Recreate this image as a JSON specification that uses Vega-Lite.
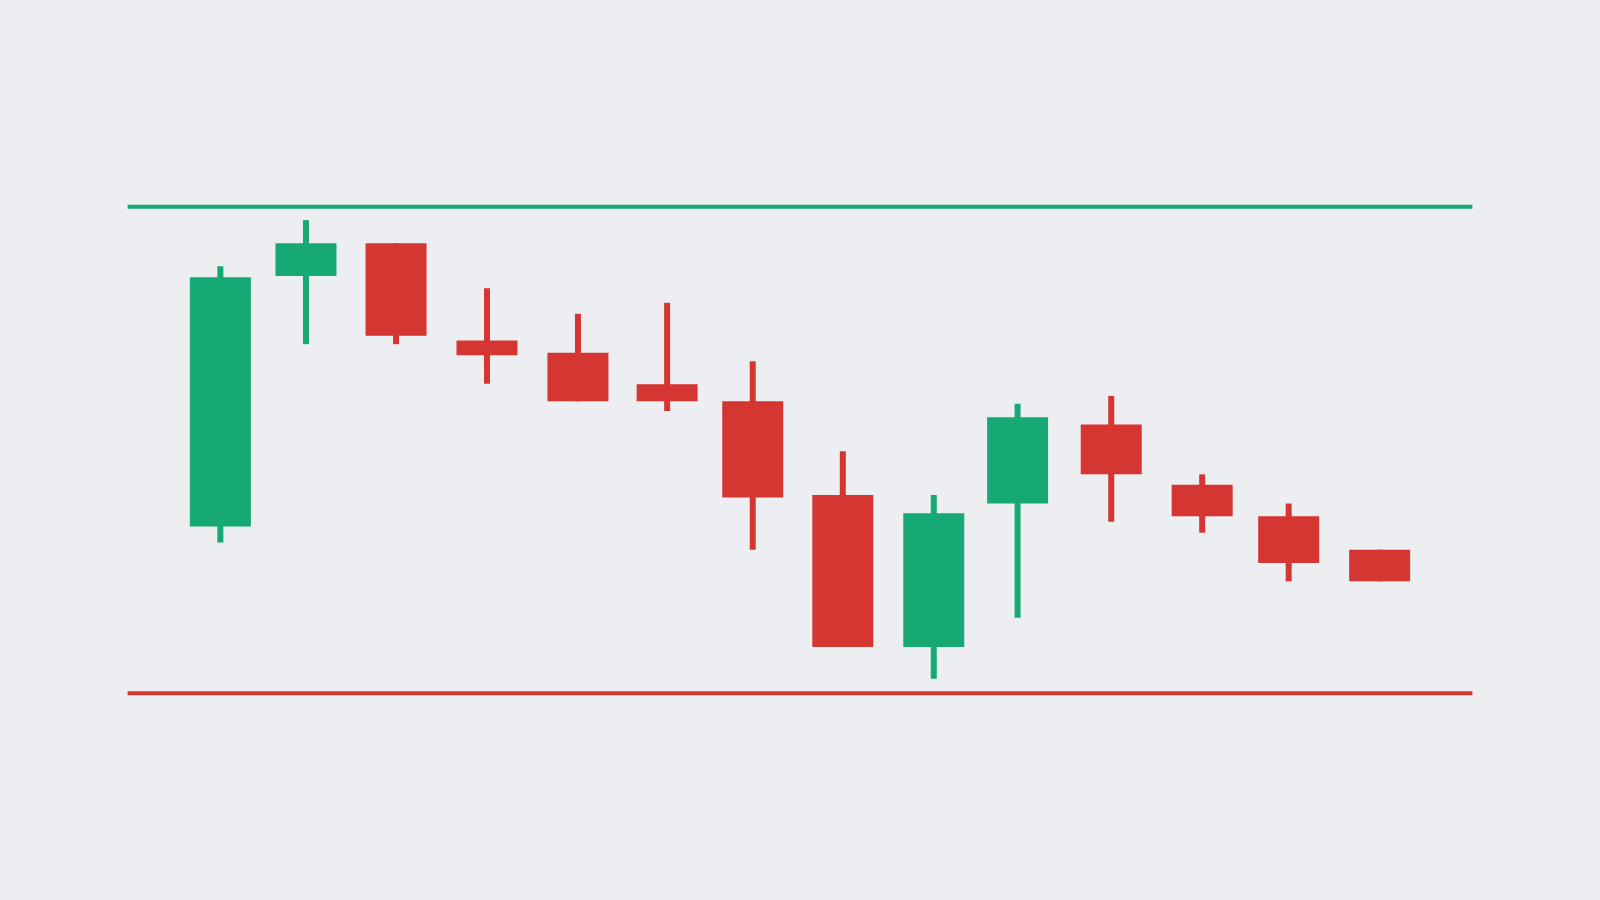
{
  "$schema": "https://vega.github.io/schema/vega-lite/v6.json",
  "description": "Candlestick chart with a resistance line above and a support line below.",
  "width": 1600,
  "height": 900,
  "autosize": {"type": "fit", "contains": "padding"},
  "padding": 0,
  "background": "#ECEEF2",
  "config": {"view": {"stroke": null}},
  "datasets": {
    "candles": [
      {"t": 1, "open": 93.7, "close": 114.2, "high": 115.1, "low": 92.4},
      {"t": 1.96, "open": 114.3, "close": 117.0, "high": 118.9, "low": 108.7},
      {"t": 2.97, "open": 117.0, "close": 109.4, "high": 117.0, "low": 108.7},
      {"t": 3.99, "open": 109.0, "close": 107.8, "high": 113.3, "low": 105.45},
      {"t": 5.01, "open": 108.0, "close": 104.0, "high": 111.2, "low": 104.0},
      {"t": 6.01, "open": 105.4, "close": 104.0, "high": 112.1, "low": 103.2},
      {"t": 6.97, "open": 104.0, "close": 96.1, "high": 107.3, "low": 91.8},
      {"t": 7.98, "open": 96.3, "close": 83.8, "high": 99.9, "low": 83.8},
      {"t": 9.0, "open": 83.8, "close": 94.8, "high": 96.3, "low": 81.2},
      {"t": 9.94, "open": 95.6, "close": 102.7, "high": 103.8, "low": 86.2},
      {"t": 10.99, "open": 102.1, "close": 98.0, "high": 104.45, "low": 94.1},
      {"t": 12.01, "open": 97.15, "close": 94.55, "high": 98.0, "low": 93.2},
      {"t": 12.98, "open": 94.55, "close": 90.7, "high": 95.6, "low": 89.2},
      {"t": 14, "open": 91.8, "close": 89.2, "high": 91.8, "low": 89.2}
    ],
    "levels": [
      {"level": "resistance", "price": 120, "start": -0.04, "end": 15.04},
      {"level": "support", "price": 80, "start": -0.04, "end": 15.04}
    ]
  },
  "layer": [
    {
      "data": {"name": "levels"},
      "mark": {"type": "rule", "strokeWidth": 4},
      "encoding": {
        "x": {"field": "start", "type": "quantitative", "scale": {"domain": [-1.415, 16.415], "nice": false, "zero": false}, "axis": null},
        "x2": {"field": "end"},
        "y": {"field": "price", "type": "quantitative", "scale": {"domain": [63, 137], "nice": false, "zero": false}, "axis": null},
        "color": {
          "field": "level",
          "type": "nominal",
          "scale": {"domain": ["resistance", "support"], "range": ["#17A974", "#D63631"]},
          "legend": null
        }
      }
    },
    {
      "data": {"name": "candles"},
      "transform": [{"calculate": "datum.close >= datum.open ? 'up' : 'down'", "as": "dir"}],
      "encoding": {
        "x": {"field": "t", "type": "quantitative", "scale": {"domain": [-1.415, 16.415], "nice": false, "zero": false}, "axis": null},
        "color": {
          "field": "dir",
          "type": "nominal",
          "scale": {"domain": ["up", "down"], "range": ["#17A974", "#D63631"]},
          "legend": null
        }
      },
      "layer": [
        {
          "mark": {"type": "rule", "strokeWidth": 6},
          "encoding": {
            "y": {"field": "low", "type": "quantitative", "scale": {"domain": [63, 137], "nice": false, "zero": false}, "axis": null},
            "y2": {"field": "high"}
          }
        },
        {
          "mark": {"type": "bar", "size": 61},
          "encoding": {
            "y": {"field": "open", "type": "quantitative", "scale": {"domain": [63, 137], "nice": false, "zero": false}, "axis": null},
            "y2": {"field": "close"}
          }
        }
      ]
    }
  ]
}
